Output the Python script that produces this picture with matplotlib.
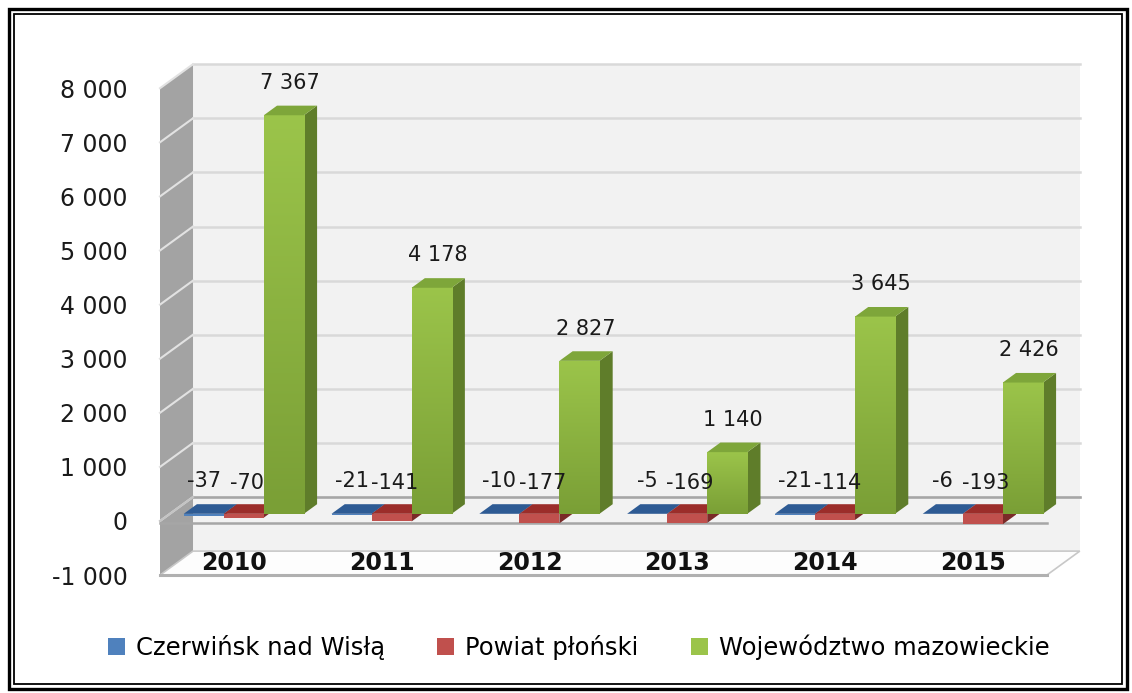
import numpy as np
import matplotlib
matplotlib.use("Agg")
import matplotlib.pyplot as plt
from matplotlib.patches import Polygon, Rectangle

plt.rcParams['font.family'] = ['DejaVu Sans']

years = ["2010", "2011", "2012", "2013", "2014", "2015"]
series_names = ["Czerwińsk nad Wisłą", "Powiat płoński", "Województwo mazowieckie"]
czerwinsk = [-37, -21, -10, -5, -21, -6]
powiat = [-70, -141, -177, -169, -114, -193]
mazowieckie = [7367, 4178, 2827, 1140, 3645, 2426]
yticks = [-1000, 0, 1000, 2000, 3000, 4000, 5000, 6000, 7000, 8000]
ytick_labels = ["-1 000", "0", "1 000", "2 000", "3 000", "4 000",
                "5 000", "6 000", "7 000", "8 000"]

# colours: (front, side, top)
colors = [("#4f81bd", "#2c4d75", "#2e5b94"),
          ("#c0504d", "#7a2a28", "#9b2d2a"),
          ("#9bc44a", "#5f7d2a", "#7ea63a")]

W, H = 1132, 693
fig = plt.figure(figsize=(W / 100, H / 100), dpi=100)

# axes placement in pixels (left, top, right, bottom)
pl, pt, pr, pb = 140, 40, 1110, 600
ax = fig.add_axes([pl / W, (H - pb) / H, (pr - pl) / W, (pb - pt) / H])

# 3D depth vector (data units) and wall extents
DX, DY = 0.2233, 443.6
x0, x1 = -0.5, 5.5
vmin, vmax = -1000, 8000
bw = 0.271            # bar width
t0, t1 = 0.3, 0.7     # bar depth range (fraction of floor depth)

# back wall
ax.add_patch(Rectangle((x0 + DX, vmin + DY), x1 - x0, vmax - vmin,
                       facecolor="#f2f2f2", edgecolor="none", zorder=1))
# left side wall
ax.add_patch(Polygon([(x0, vmin), (x0 + DX, vmin + DY), (x0 + DX, vmax + DY), (x0, vmax)],
                     facecolor="#a3a3a3", edgecolor="none", zorder=1))
# floor
ax.add_patch(Polygon([(x0, vmin), (x1, vmin), (x1 + DX, vmin + DY), (x0 + DX, vmin + DY)],
                     facecolor="#fdfdfd", edgecolor="#c8c8c8", lw=1.2, zorder=1))
ax.plot([x0, x1], [vmin, vmin], color="#b0b0b0", lw=2.2, zorder=2)

# gridlines
for v in yticks:
    if v == vmin:
        continue
    ax.plot([x0 + DX, x1 + DX], [v + DY, v + DY], color="#d9d9d9", lw=1.8, zorder=2)
    ax.plot([x0, x0 + DX], [v, v + DY], color="#e2e2e2", lw=1.5, zorder=2)
# zero lines
ax.plot([x0 + DX, x1 + DX], [DY, DY], color="#a6a6a6", lw=1.8, zorder=2)
ax.plot([x0, x0 + DX], [0, DY], color="#c4c4c4", lw=1.5, zorder=2)
ax.plot([x0, x1], [-40, -40], color="#a6a6a6", lw=1.8, zorder=2)

ox0, oy0 = t0 * DX, t0 * DY
ox1, oy1 = t1 * DX, t1 * DY

def bar3d(xl, val, cols, z):
    front, side, top = cols
    lo, hi = min(0, val), max(0, val)
    # side face
    ax.add_patch(Polygon([(xl + bw + ox0, lo + oy0), (xl + bw + ox1, lo + oy1),
                          (xl + bw + ox1, hi + oy1), (xl + bw + ox0, hi + oy0)],
                         facecolor=side, edgecolor="none", zorder=z))
    # front face
    if val > 0:
        grad = np.linspace(1, 0, 64).reshape(-1, 1)
        cm = matplotlib.colors.LinearSegmentedColormap.from_list("g", ["#7a9f36", front])
        ax.imshow(grad, cmap=cm, aspect="auto", interpolation="bilinear",
                  extent=(xl + ox0, xl + bw + ox0, lo + oy0, hi + oy0), zorder=z + 0.01)
    else:
        ax.add_patch(Rectangle((xl + ox0, lo + oy0), bw, hi - lo,
                               facecolor=front, edgecolor="none", zorder=z + 0.01))
    # top face
    ax.add_patch(Polygon([(xl + ox0, hi + oy0), (xl + bw + ox0, hi + oy0),
                          (xl + bw + ox1, hi + oy1), (xl + ox1, hi + oy1)],
                         facecolor=top, edgecolor="none", zorder=z + 0.02))

all_series = [czerwinsk, powiat, mazowieckie]
z = 3
for c in range(len(years)):
    for s, vals in enumerate(all_series):
        xl = c + (s - 1.5) * bw
        bar3d(xl, vals[c], colors[s], z)
        z += 0.1

# data labels
lab_kw = dict(ha="center", va="center", fontsize=15, color="#1a1a1a", zorder=20)
for c in range(len(years)):
    for s, vals in enumerate(all_series):
        xc = c + (s - 1) * bw + ox0
        v = vals[c]
        txt = f"{v:,}".replace(",", " ")
        if v > 0:
            ax.text(xc + 0.04, v + oy1 + 420, txt, **lab_kw)
        elif s == 0:
            ax.text(xc, 740, txt, **lab_kw)
        else:
            ax.text(xc + 0.02, 700, txt, **lab_kw)

# category labels on the floor
for c, yr in enumerate(years):
    ax.text(c, vmin + 0.5 * DY, yr, ha="center", va="center",
            fontsize=17, fontweight="bold", color="#111111", zorder=20)

ax.set_xlim((pl - 233.9) / 147.8, (pr - 233.9) / 147.8)
ax.set_ylim((521 - pb) / 0.0541, (521 - pt) / 0.0541)
ax.set_xticks([])
ax.set_yticks(yticks)
ax.set_yticklabels(ytick_labels, fontsize=17, color="#1a1a1a")
ax.tick_params(axis="y", length=0, pad=9)
for sp in ax.spines.values():
    sp.set_visible(False)
ax.patch.set_alpha(0)

# legend
handles = [Rectangle((0, 0), 1, 1, facecolor=c[0], edgecolor="none") for c in colors]
fig.legend(handles, series_names, loc="center", bbox_to_anchor=(0.511, 1 - 647 / H),
           ncol=3, frameon=False, fontsize=17.5, handlelength=0.7, handleheight=0.7,
           handletextpad=0.45, columnspacing=2.15)

# double frame
fig.add_artist(Rectangle((8.5 / W, 1 - 689 / H), 1118 / W, 680 / H, transform=fig.transFigure,
                         fill=False, edgecolor="black", lw=2.4))
fig.add_artist(Rectangle((13.5 / W, 1 - 684 / H), 1108 / W, 670 / H, transform=fig.transFigure,
                         fill=False, edgecolor="black", lw=1.3))

fig.savefig("out.png", dpi=100)
